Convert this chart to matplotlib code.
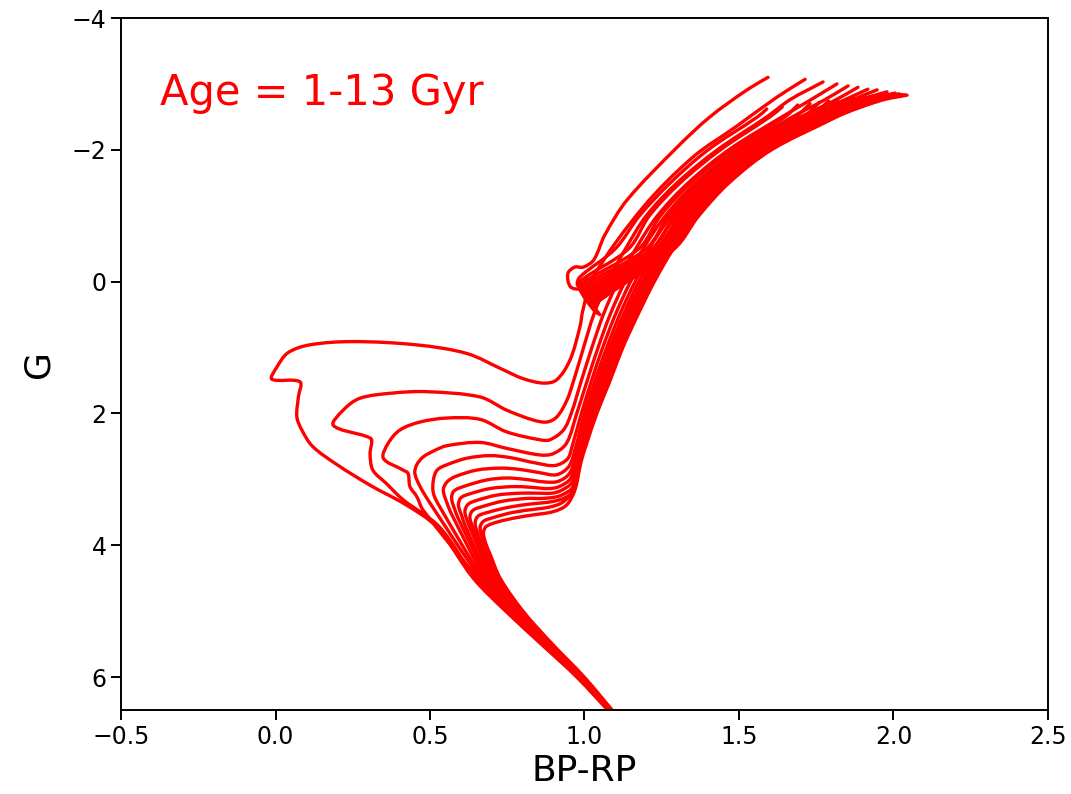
import matplotlib
matplotlib.use("Agg")
import matplotlib.pyplot as plt
from matplotlib.path import Path
from matplotlib.patches import PathPatch
import numpy as np

# Isochrones in the Gaia (BP-RP, G) plane, ages 1-13 Gyr.
# Each list runs along the lower main sequence, the turn-off, the sub-giant
# branch and the red giant branch up to its tip.
ages_gyr = [1, 2, 3, 4, 5, 6, 7, 8, 9, 10, 11, 12, 13]

iso_1gyr = [(1.095, 6.6), (0.975, 6.0), (0.86, 5.5), (0.745, 5.0), (0.64, 4.5),
            (0.521, 3.72), (0.42, 3.38), (0.31, 3.10), (0.20, 2.78), (0.12, 2.50),
            (0.085, 2.25), (0.069, 2.05), (0.074, 1.75), (0.079, 1.52),
            (-0.012, 1.48), (0.004, 1.30), (0.04, 1.08), (0.11, 0.96), (0.25, 0.91),
            (0.457, 0.96), (0.619, 1.09), (0.738, 1.34), (0.80, 1.47), (0.867, 1.54),
            (0.91, 1.49), (0.953, 1.19), (0.985, 0.69), (0.995, 0.43), (1.028, -0.07),
            (1.19, -1.13), (1.351, -1.89), (1.49, -2.35), (1.623, -2.80), (1.714, -3.07)]
iso_2gyr = [(1.096, 6.6), (0.977, 6.0), (0.863, 5.5), (0.75, 5.0), (0.648, 4.5),
            (0.53, 3.72), (0.413, 3.31), (0.358, 3.06), (0.315, 2.86), (0.306, 2.61),
            (0.311, 2.40), (0.295, 2.35), (0.187, 2.18), (0.219, 1.95), (0.273, 1.77),
            (0.381, 1.69), (0.489, 1.67), (0.662, 1.75), (0.748, 1.95), (0.834, 2.10),
            (0.879, 2.13), (0.911, 2.05), (0.943, 1.80), (0.965, 1.5), (0.997, 1.0),
            (1.03, 0.5), (1.075, 0.0), (1.133, -0.5), (1.20, -1.0), (1.30, -1.5),
            (1.43, -2.0), (1.59, -2.5), (1.665, -2.76), (1.772, -3.03)]
iso_3gyr = [(1.097, 6.6), (0.979, 6.0), (0.866, 5.5), (0.755, 5.0), (0.656, 4.5),
            (0.478, 3.47), (0.457, 3.26), (0.435, 3.11), (0.429, 2.91), (0.413, 2.86),
            (0.349, 2.68), (0.365, 2.45), (0.403, 2.25), (0.468, 2.13), (0.554, 2.07),
            (0.662, 2.09), (0.748, 2.28), (0.856, 2.40), (0.888, 2.40), (0.932, 2.25),
            (0.957, 2.0), (0.99, 1.5), (1.024, 1.0), (1.061, 0.5), (1.108, 0.0),
            (1.166, -0.5), (1.236, -1.0), (1.336, -1.5), (1.467, -2.0), (1.639, -2.5),
            (1.729, -2.75), (1.817, -3.0)]
iso_4gyr = [(1.098, 6.6), (0.981, 6.0), (0.869, 5.5), (0.76, 5.0), (0.664, 4.5),
            (0.50, 3.36), (0.468, 3.11), (0.451, 2.91), (0.457, 2.78), (0.478, 2.66),
            (0.516, 2.56), (0.554, 2.49), (0.662, 2.44), (0.748, 2.53), (0.856, 2.63),
            (0.899, 2.61), (0.942, 2.45), (0.975, 2.0), (1.009, 1.5), (1.044, 1.0),
            (1.083, 0.5), (1.131, 0.0), (1.19, -0.5), (1.262, -1.0), (1.361, -1.5),
            (1.494, -2.0), (1.673, -2.5), (1.774, -2.75), (1.853, -2.97)]
iso_5gyr = [(1.099, 6.6), (0.983, 6.0), (0.872, 5.5), (0.765, 5.0), (0.672, 4.5),
            (0.532, 3.42), (0.511, 3.21), (0.511, 3.01), (0.523, 2.86), (0.554, 2.78),
            (0.619, 2.68), (0.694, 2.64), (0.759, 2.67), (0.84, 2.75), (0.904, 2.79),
            (0.945, 2.69), (0.96, 2.5), (0.99, 2.0), (1.023, 1.5), (1.059, 1.0),
            (1.100, 0.5), (1.149, 0.0), (1.209, -0.5), (1.282, -1.0), (1.381, -1.5),
            (1.514, -2.0), (1.70, -2.5), (1.81, -2.75), (1.885, -2.95)]
iso_6gyr = [(1.10, 6.6), (0.985, 6.0), (0.875, 5.5), (0.77, 5.0), (0.68, 4.5),
            (0.571, 3.54), (0.555, 3.36), (0.543, 3.16), (0.555, 3.04), (0.581, 2.96),
            (0.651, 2.86), (0.727, 2.83), (0.791, 2.85), (0.856, 2.90), (0.91, 2.93),
            (0.95, 2.80), (0.972, 2.5), (1.0, 2.0), (1.034, 1.5), (1.072, 1.0),
            (1.114, 0.5), (1.164, 0.0), (1.224, -0.5), (1.298, -1.0), (1.397, -1.5),
            (1.531, -2.0), (1.722, -2.5), (1.838, -2.75), (1.917, -2.92)]
iso_7gyr = [(1.101, 6.6), (0.987, 6.0), (0.878, 5.5), (0.775, 5.0), (0.688, 4.5),
            (0.597, 3.65), (0.581, 3.47), (0.570, 3.29), (0.577, 3.18), (0.608, 3.11),
            (0.683, 3.01), (0.748, 2.98), (0.807, 3.0), (0.872, 3.04), (0.915, 3.03),
            (0.953, 2.90), (0.98, 2.5), (1.008, 2.0), (1.044, 1.5), (1.082, 1.0),
            (1.126, 0.5), (1.176, 0.0), (1.237, -0.5), (1.312, -1.0), (1.41, -1.5),
            (1.545, -2.0), (1.741, -2.5), (1.862, -2.75), (1.947, -2.91)]
iso_8gyr = [(1.102, 6.6), (0.989, 6.0), (0.881, 5.5), (0.78, 5.0), (0.695, 4.5),
            (0.617, 3.74), (0.604, 3.57), (0.592, 3.39), (0.600, 3.28), (0.629, 3.22),
            (0.694, 3.14), (0.77, 3.11), (0.824, 3.12), (0.882, 3.14), (0.918, 3.11),
            (0.956, 2.98), (0.986, 2.5), (1.015, 2.0), (1.052, 1.5), (1.091, 1.0),
            (1.136, 0.5), (1.187, 0.0), (1.248, -0.5), (1.324, -1.0), (1.422, -1.5),
            (1.557, -2.0), (1.757, -2.5), (1.884, -2.75), (1.979, -2.88)]
iso_9gyr = [(1.103, 6.6), (0.991, 6.0), (0.884, 5.5), (0.785, 5.0), (0.702, 4.5),
            (0.636, 3.81), (0.623, 3.66), (0.613, 3.49), (0.623, 3.38), (0.651, 3.32),
            (0.716, 3.24), (0.791, 3.21), (0.846, 3.21), (0.895, 3.21), (0.924, 3.17),
            (0.959, 3.05), (0.975, 2.78), (0.991, 2.5), (1.022, 2.0), (1.06, 1.5),
            (1.099, 1.0), (1.145, 0.5), (1.196, 0.0), (1.258, -0.5), (1.334, -1.0),
            (1.433, -1.5), (1.568, -2.0), (1.771, -2.5), (1.902, -2.75), (2.005, -2.86)]
iso_10gyr = [(1.104, 6.6), (0.993, 6.0), (0.887, 5.5), (0.789, 5.0), (0.709, 4.5),
             (0.652, 3.89), (0.639, 3.74), (0.629, 3.57), (0.639, 3.47), (0.672, 3.41),
             (0.737, 3.33), (0.813, 3.29), (0.862, 3.29), (0.904, 3.27), (0.93, 3.23),
             (0.962, 3.12), (0.978, 2.82), (0.995, 2.5), (1.028, 2.0), (1.066, 1.5),
             (1.106, 1.0), (1.153, 0.5), (1.205, 0.0), (1.266, -0.5), (1.344, -1.0),
             (1.442, -1.5), (1.578, -2.0), (1.784, -2.5), (1.919, -2.75), (2.018, -2.85)]
iso_11gyr = [(1.105, 6.6), (0.995, 6.0), (0.89, 5.5), (0.793, 5.0), (0.715, 4.5),
             (0.668, 3.98), (0.655, 3.83), (0.646, 3.67), (0.655, 3.56), (0.688, 3.50),
             (0.759, 3.42), (0.834, 3.37), (0.879, 3.35), (0.912, 3.32), (0.936, 3.28),
             (0.965, 3.18), (0.982, 2.85), (0.998, 2.5), (1.032, 2.0), (1.072, 1.5),
             (1.113, 1.0), (1.16, 0.5), (1.213, 0.0), (1.274, -0.5), (1.352, -1.0),
             (1.45, -1.5), (1.587, -2.0), (1.795, -2.5), (1.934, -2.75), (2.028, -2.84)]
iso_12gyr = [(1.106, 6.6), (0.997, 6.0), (0.893, 5.5), (0.797, 5.0), (0.721, 4.5),
             (0.685, 4.06), (0.672, 3.91), (0.662, 3.74), (0.672, 3.64), (0.705, 3.58),
             (0.77, 3.50), (0.845, 3.45), (0.888, 3.42), (0.925, 3.36), (0.951, 3.25),
             (0.968, 3.05), (0.985, 2.75), (1.001, 2.5), (1.036, 2.0), (1.078, 1.5),
             (1.119, 1.0), (1.167, 0.5), (1.22, 0.0), (1.281, -0.5), (1.36, -1.0),
             (1.458, -1.5), (1.595, -2.0), (1.805, -2.5), (1.947, -2.75), (2.037, -2.835)]
iso_13gyr = [(1.107, 6.6), (0.999, 6.0), (0.896, 5.5), (0.801, 5.0), (0.727, 4.5),
             (0.694, 4.13), (0.681, 3.98), (0.673, 3.82), (0.681, 3.72), (0.716, 3.65),
             (0.781, 3.58), (0.834, 3.54), (0.899, 3.49), (0.942, 3.39), (0.969, 3.16),
             (0.988, 2.75), (1.004, 2.5), (1.04, 2.0), (1.083, 1.5), (1.124, 1.0),
             (1.173, 0.5), (1.226, 0.0), (1.288, -0.5), (1.367, -1.0), (1.465, -1.5),
             (1.602, -2.0), (1.815, -2.5), (1.96, -2.75), (2.044, -2.83)]

# Core-helium-burning clump and asymptotic giant branch of each age
hb_1gyr = [(1.008, -0.08), (0.99, 0.10), (0.955, 0.08), (0.946, -0.12), (0.968, -0.22),
           (0.996, -0.22), (1.03, -0.33), (1.066, -0.71), (1.138, -1.24), (1.30, -2.04),
           (1.406, -2.50), (1.526, -2.91), (1.594, -3.10)]
hb_2gyr = [(0.995, 0.11), (0.977, 0.05), (0.985, -0.07), (1.10, -0.5), (1.178, -1.0),
           (1.278, -1.5), (1.40, -2.0), (1.56, -2.5), (1.59, -2.62)]
hb_3gyr = [(1.0, 0.16), (0.982, 0.10), (0.99, -0.02), (1.143, -0.5), (1.21, -1.0),
           (1.31, -1.5), (1.44, -2.0), (1.60, -2.5), (1.64, -2.65)]
hb_4gyr = [(1.005, 0.20), (0.987, 0.14), (0.995, 0.02), (1.176, -0.5), (1.246, -1.0),
           (1.346, -1.5), (1.477, -2.0), (1.649, -2.5), (1.69, -2.68)]
hb_5gyr = [(1.01, 0.24), (0.992, 0.18), (1.0, 0.06), (1.20, -0.5), (1.272, -1.0),
           (1.371, -1.5), (1.504, -2.0), (1.683, -2.5), (1.73, -2.70)]
hb_6gyr = [(1.015, 0.28), (0.997, 0.22), (1.005, 0.10), (1.219, -0.5), (1.292, -1.0),
           (1.391, -1.5), (1.524, -2.0), (1.71, -2.5), (1.76, -2.72)]
hb_7gyr = [(1.02, 0.32), (1.002, 0.26), (1.01, 0.14), (1.234, -0.5), (1.308, -1.0),
           (1.407, -1.5), (1.541, -2.0), (1.732, -2.5), (1.79, -2.74)]
hb_8gyr = [(1.025, 0.35), (1.007, 0.29), (1.015, 0.17), (1.247, -0.5), (1.322, -1.0),
           (1.42, -1.5), (1.555, -2.0), (1.751, -2.5), (1.82, -2.76)]
hb_9gyr = [(1.03, 0.38), (1.012, 0.32), (1.02, 0.20), (1.258, -0.5), (1.334, -1.0),
           (1.432, -1.5), (1.567, -2.0), (1.767, -2.5), (1.85, -2.77)]
hb_10gyr = [(1.035, 0.41), (1.017, 0.35), (1.025, 0.23), (1.268, -0.5), (1.344, -1.0),
            (1.443, -1.5), (1.578, -2.0), (1.781, -2.5), (1.87, -2.78)]
hb_11gyr = [(1.04, 0.44), (1.022, 0.38), (1.03, 0.26), (1.276, -0.5), (1.354, -1.0),
            (1.452, -1.5), (1.588, -2.0), (1.794, -2.5), (1.89, -2.79)]
hb_12gyr = [(1.045, 0.47), (1.027, 0.41), (1.035, 0.29), (1.284, -0.5), (1.362, -1.0),
            (1.46, -1.5), (1.597, -2.0), (1.805, -2.5), (1.91, -2.80)]
hb_13gyr = [(1.05, 0.50), (1.032, 0.44), (1.04, 0.32), (1.291, -0.5), (1.37, -1.0),
            (1.468, -1.5), (1.605, -2.0), (1.815, -2.5), (1.93, -2.80)]

x_ticks = [-0.5, 0.0, 0.5, 1.0, 1.5, 2.0, 2.5]
y_ticks = [-4, -2, 0, 2, 4, 6]
age_label = "Age = 1-13 Gyr"

tracks = [iso_1gyr, iso_2gyr, iso_3gyr, iso_4gyr, iso_5gyr, iso_6gyr, iso_7gyr,
          iso_8gyr, iso_9gyr, iso_10gyr, iso_11gyr, iso_12gyr, iso_13gyr]
branches = [hb_1gyr, hb_2gyr, hb_3gyr, hb_4gyr, hb_5gyr, hb_6gyr, hb_7gyr,
            hb_8gyr, hb_9gyr, hb_10gyr, hb_11gyr, hb_12gyr, hb_13gyr]


def smooth_path(points, aspect=(309.0, 66.0)):
    """Cubic Bezier path through the given points (chord-length tangents)."""
    p = np.asarray(points, dtype=float)
    s = np.asarray(aspect)
    d = np.hypot(*((np.diff(p, axis=0) * s).T))
    n = len(p)
    tang = np.zeros_like(p)
    for i in range(n):
        if i == 0:
            tang[i] = (p[1] - p[0]) / d[0]
        elif i == n - 1:
            tang[i] = (p[-1] - p[-2]) / d[-1]
        else:
            tang[i] = (p[i + 1] - p[i - 1]) / (d[i - 1] + d[i])
    verts = [p[0]]
    codes = [Path.MOVETO]
    for i in range(n - 1):
        verts += [p[i] + tang[i] * d[i] / 3.0,
                  p[i + 1] - tang[i + 1] * d[i] / 3.0,
                  p[i + 1]]
        codes += [Path.CURVE4] * 3
    return Path(verts, codes)


fig = plt.figure(figsize=(10.71, 7.94), dpi=100)
ax = fig.add_axes([0.1130, 0.1058, 0.8655, 0.8715])

for age, track, branch in zip(ages_gyr, tracks, branches):
    for seg in (track, branch):
        ax.add_patch(PathPatch(smooth_path(seg), facecolor="none",
                               edgecolor="red", lw=2.4,
                               joinstyle="round", capstyle="round"))

ax.set_xlim(-0.5, 2.5)
ax.set_ylim(6.5, -4)
ax.set_xticks(x_ticks)
ax.set_yticks(y_ticks)
ax.tick_params(labelsize=17, length=7, width=1.4)
for sp in ax.spines.values():
    sp.set_linewidth(1.4)

ax.set_xlabel("BP-RP", fontsize=26, labelpad=4)
ax.set_ylabel("G", fontsize=26, labelpad=12)

ax.text(0.042, 0.874, age_label, transform=ax.transAxes, color="red",
        fontsize=30, ha="left", va="baseline")

fig.savefig("out.png", dpi=100)
